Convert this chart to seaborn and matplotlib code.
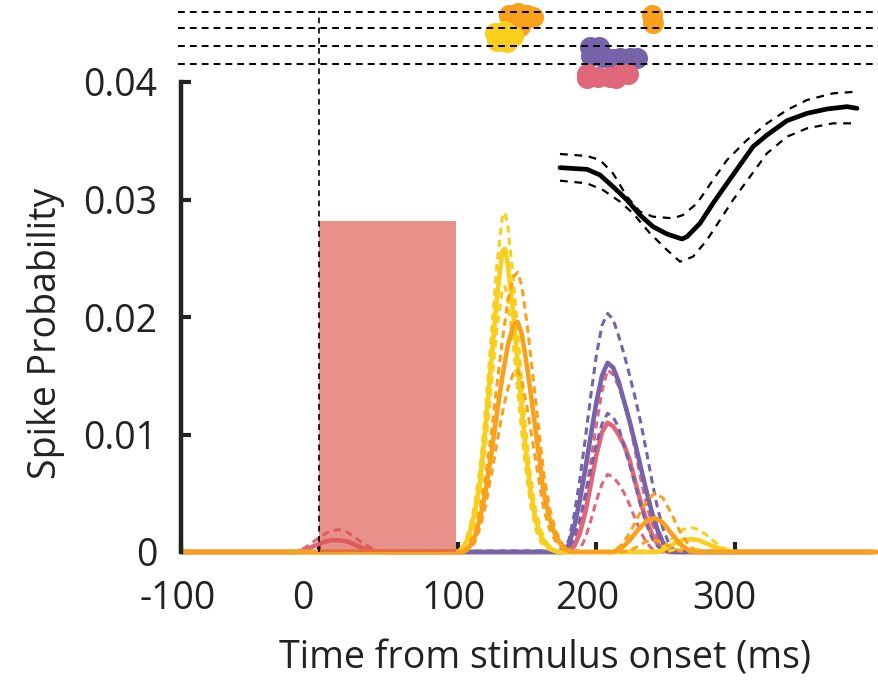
import matplotlib
matplotlib.use("Agg")
import matplotlib.pyplot as plt
import matplotlib.transforms as mtransforms
import seaborn as sns
import numpy as np

# ---------------- data ----------------
# PSTH curves (time in ms, spike probability)
red_t = [-100, -16, -10, -4, 2, 8, 14, 20, 26, 32, 38, 44,
         176, 180, 184, 188, 192, 196, 200, 204, 208, 212, 216, 220, 224, 228, 232, 236, 240, 244, 248, 252, 256, 400]
red_mean = [0, 0, .0002, .0005, .0008, .0010, .0010, .0009, .0006, .0003, .0001, 0,
            0, 0, .0005, .0016, .0034, .0058, .0083, .0102, .0110, .0107, .0100, .0091, .0078, .0060, .0042, .0027, .0015, .0007, .0002, 0, 0, 0]
red_hi = [0, 0, .0004, .0009, .0014, .0018, .0019, .0017, .0012, .0007, .0003, 0,
          0, .0002, .0009, .0025, .0049, .0078, .0109, .0137, .0155, .0151, .0141, .0127, .0109, .0086, .0062, .0041, .0025, .0013, .0005, .0001, 0, 0]
red_lo = [0, 0, 0, 0, 0, 0, 0, 0, 0, 0, 0, 0,
          0, 0, 0, .0002, .0012, .0027, .0044, .0058, .0066, .0064, .0058, .0050, .0040, .0028, .0017, .0008, .0003, 0, 0, 0, 0, 0]

purple_t = [-100, 176, 180, 184, 188, 192, 196, 200, 204, 208, 212, 216, 220, 224, 228, 232, 236, 240, 244, 248, 252, 256, 260, 400]
purple_mean = [0, 0, .0006, .0022, .0044, .0071, .0100, .0128, .0150, .0161, .0157, .0145, .0128, .0111, .0092, .0072, .0052, .0034, .0019, .0008, .0002, 0, 0, 0]
purple_hi = [0, .0001, .0010, .0032, .0062, .0097, .0134, .0168, .0193, .0203, .0198, .0184, .0168, .0150, .0131, .0110, .0086, .0061, .0038, .0020, .0008, .0002, 0, 0]
purple_lo = [0, 0, .0003, .0013, .0028, .0048, .0070, .0092, .0109, .0118, .0115, .0106, .0090, .0074, .0057, .0039, .0024, .0012, .0005, .0001, 0, 0, 0, 0]

yellow_t = [-100, 100, 104, 108, 112, 116, 120, 124, 128, 132, 134, 136, 140, 144, 148, 152, 156, 160, 164, 168, 172,
            244, 250, 256, 262, 268, 274, 280, 286, 292, 300, 400]
yellow_mean = [0, 0, .0004, .0014, .0033, .0060, .0107, .0161, .0215, .0256, .0258, .0245, .0202, .0150, .0098, .0055, .0028, .0013, .0006, .0002, 0,
               0, .0003, .0007, .0010, .0011, .0010, .0007, .0004, .0002, 0, 0]
yellow_hi = [0, 0, .0006, .0018, .0040, .0072, .0123, .0183, .0243, .0285, .0289, .0278, .0232, .0175, .0117, .0068, .0036, .0018, .0008, .0003, 0,
             .0001, .0006, .0013, .0019, .0021, .0019, .0014, .0008, .0003, 0, 0]
yellow_lo = [0, 0, .0002, .0010, .0026, .0049, .0091, .0140, .0188, .0224, .0226, .0214, .0175, .0126, .0080, .0043, .0020, .0008, .0003, .0001, 0,
             0, 0, .0002, .0003, .0003, .0002, 0, 0, 0, 0, 0]

orange_t = [-100, 104, 108, 112, 116, 120, 124, 128, 132, 136, 140, 143, 146, 150, 154, 158, 162, 166, 170, 174, 178, 182,
            212, 218, 224, 230, 236, 242, 248, 254, 260, 266, 272, 404]
orange_mean = [0, 0, .0004, .0012, .0029, .0052, .0083, .0117, .0149, .0176, .0193, .0196, .0186, .0157, .0122, .0086, .0050, .0029, .0015, .0007, .0002, 0,
               0, .0003, .0010, .0019, .0026, .0029, .0025, .0016, .0007, .0002, 0, 0]
orange_hi = [0, .0001, .0006, .0016, .0036, .0064, .0100, .0141, .0180, .0213, .0234, .0238, .0227, .0193, .0151, .0108, .0066, .0038, .0020, .0009, .0003, 0,
             0, .0006, .0016, .0030, .0043, .0050, .0046, .0033, .0018, .0007, 0, 0]
orange_lo = [0, 0, .0002, .0008, .0021, .0040, .0065, .0092, .0118, .0139, .0152, .0155, .0146, .0122, .0093, .0064, .0036, .0020, .0010, .0004, .0001, 0,
             0, 0, .0001, .0005, .0009, .0010, .0008, .0004, .0001, 0, 0, 0]

# raster spikes (time ms, row position)
orange_spk_t = [137.0, 143.0, 149.5, 154.5, 140.0, 144.5, 240.3, 240.8]
orange_spk_y = [0.0457, 0.04583, 0.0457, 0.04555, 0.04485, 0.04478, 0.04572, 0.04502]
yellow_spk_t = [127.0, 128.0, 133.9, 135.5, 139.8, 131.8]
yellow_spk_y = [0.04420, 0.04345, 0.04435, 0.0434, 0.04391, 0.04383]
purple_spk_t = [195.0, 202.0, 196.0, 205.0, 217.0, 224.5, 229.5, 211.2]
purple_spk_y = [0.04296, 0.04296, 0.04225, 0.0421, 0.04205, 0.04208, 0.04208, 0.04195]
red_spk_t = [193.5, 193.5, 201.2, 209.7, 217.0, 222.5, 214.1]
red_spk_y = [0.04070, 0.04034, 0.04040, 0.04040, 0.04066, 0.04066, 0.04034]
raster_rows = [0.04596, 0.0446, 0.04306, 0.04153]

# stimulus window
stim_t = [0, 98.5]
stim_h = [0.0282, 0.0282]

# spike waveform (inset, arbitrary units)
wave_t = [2.0, 4.7, 6.0, 7.3, 8.7, 10.0, 11.3, 12.7, 14.2, 14.7, 16.0, 17.3, 18.7, 20.0, 21.3, 22.7, 24.7, 26.7, 28.7, 30.7, 31.7]
wave_mean = [0, -0.05, -0.22, -0.57, -0.97, -1.42, -1.77, -1.99, -2.14, -2.07, -1.67, -1.07, -0.47, 0.08, 0.63, 0.98, 1.41, 1.63, 1.76, 1.83, 1.78]
wave_hi_t = [2.0, 4.7, 6.0, 7.3, 8.7, 10.0, 11.3, 13.3, 14.3, 15.7, 17.3, 18.7, 20.7, 22.7, 24.7, 26.7, 29.3, 31.7]
wave_hi = [0.41, 0.35, 0.23, -0.17, -0.87, -1.32, -1.47, -1.52, -1.42, -1.07, -0.37, 0.23, 0.83, 1.33, 1.73, 2.03, 2.23, 2.28]
wave_lo_t = [2.0, 4.7, 6.3, 8.0, 9.3, 11.0, 12.7, 14.0, 15.3, 16.7, 18.0, 19.3, 21.0, 22.7, 24.7, 26.7, 29.3, 31.7]
wave_lo = [-0.39, -0.47, -0.67, -1.02, -1.37, -1.97, -2.47, -2.82, -2.67, -2.17, -1.57, -0.97, -0.27, 0.43, 0.93, 1.18, 1.33, 1.33]

xticks = [-100, 0, 100, 200, 300]
xticklabels = ["-100", "0", "100", "200", "300"]
yticks = [0, 0.01, 0.02, 0.03, 0.04]
yticklabels = ["0", "0.01", "0.02", "0.03", "0.04"]

# ---------------- style ----------------
sns.set_theme(style="white")
plt.rcParams["font.family"] = ["Open Sans", "DejaVu Sans"]
TXT = "#222222"

C_RED = "#E06779"
C_PUR = "#7663A9"
C_YEL = "#F9CF1D"
C_ORA = "#F9A11B"

fig = plt.figure(figsize=(8.79, 6.80), dpi=100)
ax = fig.add_axes([181 / 879, 128 / 680, 698 / 879, 552 / 680])
ax.set_xlim(-100, 404)
ax.set_ylim(0, 552 / 11750)
ax.patch.set_alpha(0)

LW = 3.3
DLW = 2.2
dash = (0, (2.4, 1.6))

series = [
    (red_t, red_mean, red_hi, red_lo, C_RED),
    (purple_t, purple_mean, purple_hi, purple_lo, C_PUR),
    (yellow_t, yellow_mean, yellow_hi, yellow_lo, C_YEL),
    (orange_t, orange_mean, orange_hi, orange_lo, C_ORA),
]
z = 2
for t, m, hi, lo, c in series:
    for arr in (hi, lo):
        sns.lineplot(x=t, y=arr, ax=ax, color=c, lw=DLW, estimator=None, sort=False, zorder=z)
        ax.lines[-1].set_linestyle(dash)
        ax.lines[-1].set_clip_on(False)
    sns.lineplot(x=t, y=m, ax=ax, color=c, lw=LW, estimator=None, sort=False, zorder=z + 0.5)
    ax.lines[-1].set_clip_on(False)
    ax.lines[-1].set_solid_capstyle("butt")
    z += 1

# stimulus window (translucent red)
ax.fill_between(stim_t, [0, 0], stim_h, color=(220 / 255, 87 / 255, 78 / 255), alpha=0.66, lw=0, zorder=10)

# raster
for st, sy, c in [(orange_spk_t, orange_spk_y, C_ORA), (yellow_spk_t, yellow_spk_y, C_YEL),
                  (purple_spk_t, purple_spk_y, C_PUR), (red_spk_t, red_spk_y, C_RED)]:
    sns.scatterplot(x=st, y=sy, ax=ax, color=c, s=230, linewidth=0, zorder=11, clip_on=False, legend=False)

for r in raster_rows:
    ax.plot([-102, 404], [r, r], color="black", lw=1.4, ls=(0, (3.5, 2.6)), zorder=12, clip_on=False)
ax.plot([0, 0], [0, raster_rows[0] + 0.0001], color="black", lw=1.2, ls=(0, (3.5, 2.6)), zorder=12, clip_on=False)

# axes styling
for s in ["top", "right", "bottom"]:
    ax.spines[s].set_visible(False)
ax.spines["left"].set_bounds(0, 0.04)
ax.spines["left"].set_linewidth(3.2)
ax.spines["left"].set_color(TXT)
ax.spines["left"].set_zorder(13)

ax.set_xticks(xticks)
ax.set_xticklabels(xticklabels)
ax.set_yticks(yticks)
ax.set_yticklabels(yticklabels)
ax.tick_params(axis="x", direction="in", length=7.5, width=3.0, color=TXT, labelcolor=TXT,
               labelsize=27, pad=20, bottom=True)
ax.tick_params(axis="y", direction="in", length=7.5, width=3.0, color=TXT, labelcolor=TXT,
               labelsize=27, pad=17, left=True)
offs = [-3, -17, -4, -9, -11]
for lab, o in zip(ax.get_xticklabels(), offs):
    lab.set_transform(lab.get_transform() + mtransforms.ScaledTranslation(o / 100, 0, fig.dpi_scale_trans))

ax.set_xlabel("Time from stimulus onset (ms)", fontsize=27, color=TXT, va="center")
ax.xaxis.set_label_coords((545 - 181) / 698, (552 - 658) / 552)
ax.set_ylabel("Spike Probability", fontsize=27, color=TXT, va="center", rotation=90)
ax.yaxis.set_label_coords((46 - 181) / 698, (552 - 333) / 552)

# inset waveform
axi = fig.add_axes([540 / 879, 400 / 680, 339 / 879, 190 / 680])
axi.axis("off")
axi.set_xlim(0, 33.9)
axi.set_ylim(-3.37, 2.33)
sns.lineplot(x=wave_hi_t, y=wave_hi, ax=axi, color="black", lw=1.6, estimator=None, sort=False)
axi.lines[-1].set_linestyle((0, (3.5, 3.0)))
sns.lineplot(x=wave_lo_t, y=wave_lo, ax=axi, color="black", lw=1.6, estimator=None, sort=False)
axi.lines[-1].set_linestyle((0, (3.5, 3.0)))
sns.lineplot(x=wave_t, y=wave_mean, ax=axi, color="black", lw=3.4, estimator=None, sort=False)

fig.savefig("out.png", dpi=100)
